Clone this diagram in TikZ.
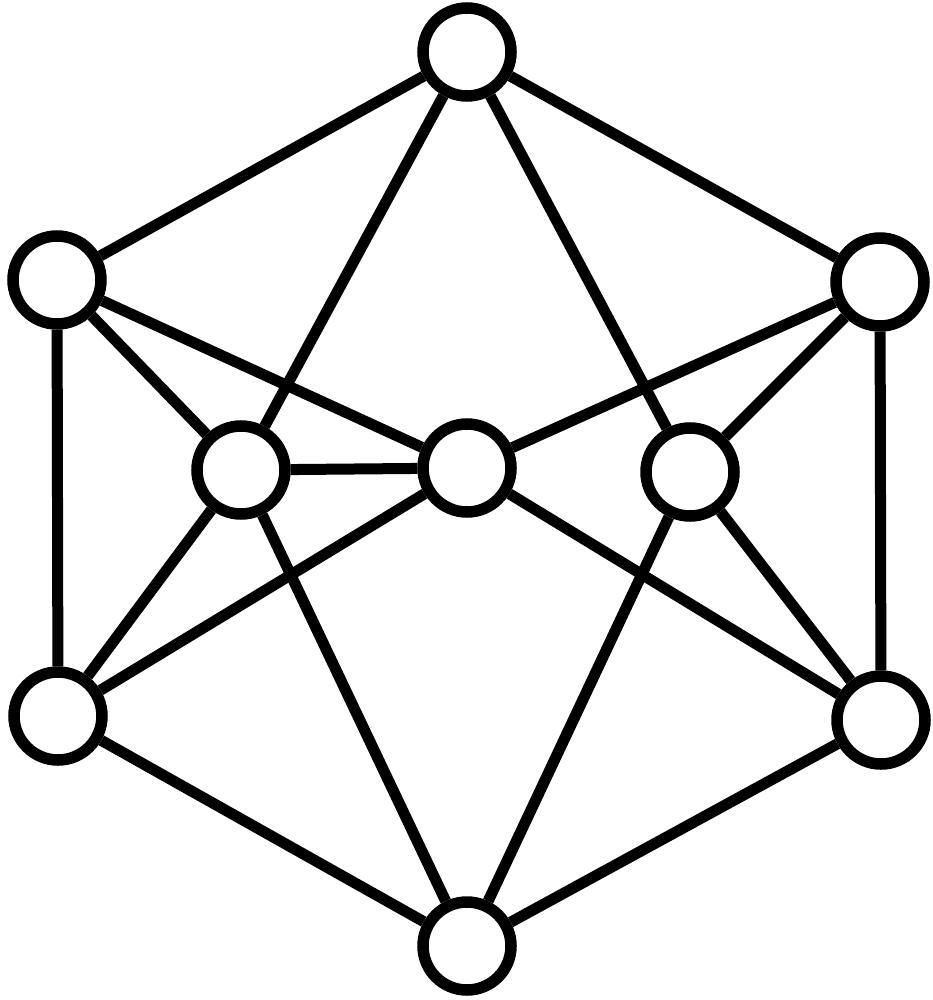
\documentclass[tikz,border=0pt]{standalone}
\begin{document}
\begin{tikzpicture}[x=1pt,y=-1pt,
  nd/.style={circle,draw=black,fill=white,line width=11.5pt,minimum size=88pt,inner sep=0pt},
  ln/.style={draw=black,line width=11pt}]
\useasboundingbox[fill=white] (0,0) rectangle (932,1000);
\node[nd] (t)  at (467,52) {};
\node[nd] (ul) at (57,280) {};
\node[nd] (ur) at (880,282) {};
\node[nd] (il) at (241,470) {};
\node[nd] (c)  at (467,468) {};
\node[nd] (ir) at (690,472) {};
\node[nd] (ll) at (58,716) {};
\node[nd] (lr) at (881,720) {};
\node[nd] (b)  at (467,946) {};
\path[ln] (t) -- (ul);
\path[ln] (t) -- (ur);
\path[ln] (t) -- (il);
\path[ln] (t) -- (ir);
\path[ln] (ul) -- (c);
\path[ln] (ur) -- (c);
\path[ln] (ul) -- (il);
\path[ln] (ur) -- (ir);
\path[ln] (ul) -- (ll);
\path[ln] (ur) -- (lr);
\path[ln] (il) -- (c);
\path[ln] (il) -- (ll);
\path[ln] (ir) -- (lr);
\path[ln] (c) -- (ll);
\path[ln] (c) -- (lr);
\path[ln] (il) -- (b);
\path[ln] (ir) -- (b);
\path[ln] (ll) -- (b);
\path[ln] (lr) -- (b);
\end{tikzpicture}
\end{document}
